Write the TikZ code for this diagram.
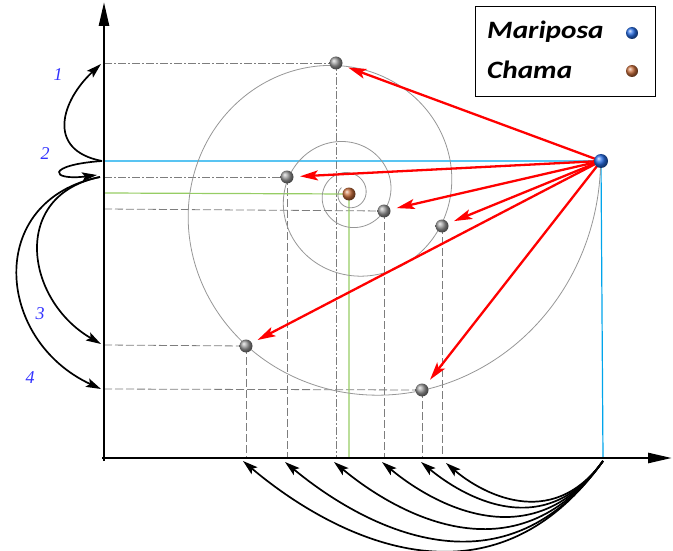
\documentclass[tikz,border=0pt]{standalone}
\usepackage{fontspec}
\setmainfont{Liberation Serif}
\newfontfamily\legendfont{Carlito}
\usetikzlibrary{arrows.meta}
\definecolor{spiralgray}{RGB}{150,150,150}
\definecolor{guidegray}{RGB}{125,125,125}
\definecolor{skyblue}{RGB}{0,165,235}
\definecolor{lightgreen}{RGB}{150,205,100}
\definecolor{labelblue}{RGB}{50,50,255}
\definecolor{arrowred}{RGB}{255,0,0}
\definecolor{flame}{RGB}{200,110,60}
\definecolor{mothblue}{RGB}{40,110,230}
\begin{document}
\begin{tikzpicture}[x=1pt,y=-1pt,
  axisline/.style={line width=2.6pt,-{Triangle[length=24pt,width=10pt]}},
  guide/.style={guidegray,line width=0.8pt,dash pattern=on 8pt off 3pt},
  guidedot/.style={guidegray,line width=0.8pt,dash pattern=on 8pt off 2pt on 2pt off 2pt},
  blueline/.style={skyblue,line width=1.2pt},
  greenline/.style={lightgreen,line width=1.2pt},
  spiral/.style={spiralgray,line width=0.8pt},
  redarrow/.style={arrowred,line width=2.3pt,shorten >=13pt,-{Stealth[length=18pt,width=10pt,inset=4pt]}},
  blackarrow/.style={black,line width=1.7pt,-{Stealth[length=15pt,width=9pt,inset=3pt]}},
  gball/.style={circle,inner sep=0pt,minimum size=13pt,shading=ball,ball color=gray!80},
  bball/.style={circle,inner sep=0pt,minimum size=14pt,shading=ball,ball color=mothblue},
  fball/.style={circle,inner sep=0pt,minimum size=13pt,shading=ball,ball color=flame},
  numlabel/.style={labelblue,font=\itshape\fontsize{18}{18}\selectfont,inner sep=0pt},
  legendtext/.style={font=\legendfont\bfseries\itshape\fontsize{25}{25}\selectfont,inner sep=0pt,anchor=west}
]
\useasboundingbox (0,0) rectangle (673,551);

% positions
\coordinate (M) at (601,161);
\coordinate (C) at (349,194);
\coordinate (P1) at (336,63);
\coordinate (P2) at (287,177);
\coordinate (P3) at (384,211);
\coordinate (P4) at (442,226);
\coordinate (P5) at (246,346);
\coordinate (P6) at (422,390);
\coordinate (O) at (104,458);

% axis feet / levels
\coordinate (Y1) at (104,63);
\coordinate (YM) at (104,161);
\coordinate (Y2) at (104,177);
\coordinate (YC) at (104,193);
\coordinate (Y3) at (104,209);
\coordinate (Y5) at (104,345);
\coordinate (Y6) at (104,389);
\coordinate (X1) at (336,458);
\coordinate (X2) at (287,458);
\coordinate (X3) at (384,458);
\coordinate (X4) at (442,458);
\coordinate (X5) at (246,458);
\coordinate (X6) at (422,458);
\coordinate (XC) at (349,458);
\coordinate (XM) at (603,458);

% guide lines
\draw[guidedot] (Y1) -- (P1);
\draw[guidedot] (P1) -- (X1);
\draw[guidedot] (Y2) -- (P2);
\draw[guide] (P2) -- (X2);
\draw[guide] (Y3) -- (P3);
\draw[guide] (P3) -- (X3);
\draw[guide] (P4) -- (X4);
\draw[guide] (Y5) -- (P5);
\draw[guide] (P5) -- (X5);
\draw[guide] (Y6) -- (P6);
\draw[guide] (P6) -- (X6);
\draw[greenline] (YC) -- (C) -- (XC);
\draw[blueline] (YM) -- (M) -- (XM);

% logarithmic spiral around the flame, ending at the butterfly
\draw[spiral] plot[domain=-1300:7.5,samples=500,variable=\t,smooth]
  ({349+exp(5.518+0.002486*\t)*cos(\t)},{194-exp(5.518+0.002486*\t)*sin(\t)});

% axes
\draw[axisline] (104,461) -- (104,2);
\draw[axisline] (102,458) -- (672,458);

% red arrows
\draw[redarrow] (M) -- (P1);
\draw[redarrow] (M) -- (P2);
\draw[redarrow] (M) -- (P3);
\draw[redarrow] (M) -- (P4);
\draw[redarrow] (M) -- (P5);
\draw[redarrow] (M) -- (P6);

% balls
\node[gball] (p1) at (P1) {};
\node[gball] (p2) at (P2) {};
\node[gball] (p3) at (P3) {};
\node[gball] (p4) at (P4) {};
\node[gball] (p5) at (P5) {};
\node[gball] (p6) at (P6) {};
\node[fball] (chama) at (C) {};
\node[bball] (mariposa) at (M) {};

% left curved arrows
\coordinate (a2) at (102,161);
\coordinate (a1) at (101,64);
\coordinate (a2b) at (97,175);
\coordinate (a2c) at (100,177);
\coordinate (a3) at (101,344);
\coordinate (a4) at (101,389);
\draw[blackarrow] (a2) .. controls (45,150) and (62,100) .. (a1);
\draw[blackarrow] (a2) .. controls (45,165) and (50,181) .. (a2b);
\draw[blackarrow] (a2c) .. controls (10,195) and (25,300) .. (a3);
\draw[blackarrow] (a2c) .. controls (-15,200) and (-5,340) .. (a4);

% bottom curved arrows
\coordinate (s) at (603,461);
\coordinate (b1) at (243,461);
\coordinate (b2) at (285,462);
\coordinate (b3) at (334,462);
\coordinate (b4) at (382,462);
\coordinate (b5) at (421,462);
\coordinate (b6) at (446,463);
\draw[blackarrow] (s) .. controls +(-118,165) and +(78,66) .. (b1);
\draw[blackarrow] (s) .. controls +(-104,146) and +(70,58) .. (b2);
\draw[blackarrow] (s) .. controls +(-88,123) and +(59,49) .. (b3);
\draw[blackarrow] (s) .. controls +(-72,101) and +(48,40) .. (b4);
\draw[blackarrow] (s) .. controls +(-60,84) and +(40,33) .. (b5);
\draw[blackarrow] (s) .. controls +(-52,72) and +(34,29) .. (b6);

% level labels
\node[numlabel] (n1) at (58,75) {1};
\node[numlabel] (n2) at (45,154) {2};
\node[numlabel] (n3) at (40,314) {3};
\node[numlabel] (n4) at (30,378) {4};

% legend
\node[draw,line width=1pt,minimum width=180pt,minimum height=90pt,inner sep=0pt] (legend) at (565,52) {};
\node[legendtext] (lm) at (487,32) {\scalebox{1.17}[1]{Mariposa}};
\node[legendtext] (lc) at (487,70) {\scalebox{1.17}[1]{Chama}};
\node[bball,minimum size=12pt] (lmb) at (632,33) {};
\node[fball,minimum size=12pt] (lcb) at (632,71) {};
\end{tikzpicture}
\end{document}
